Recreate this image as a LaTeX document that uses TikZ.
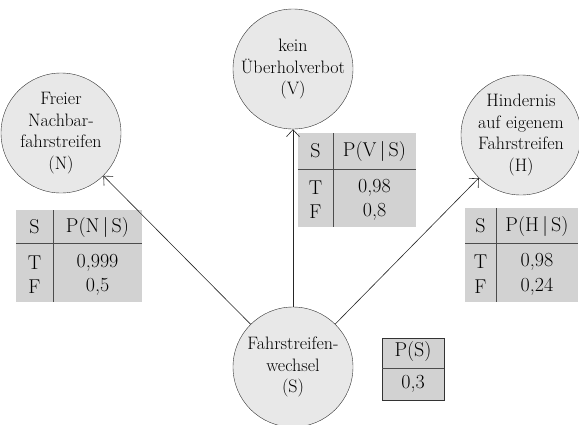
\documentclass[tikz,border=0pt]{standalone}
\usepackage{tikz}
\usetikzlibrary{arrows.meta}
\tikzset{
	x=1pt, y=-1pt,
	every node/.style={font=\fontsize{20}{22}\selectfont},
	var/.style={circle, draw=black!80, fill=gray!18, minimum size=120pt, inner sep=0pt, align=center,
		font=\fontsize{18}{21.5}\selectfont},
	cpt/.style={fill=gray!35},
	cptrule/.style={draw=black!70, line width=0.9pt},
	link/.style={-{Straight Barb[length=7pt,width=13pt]}, black!85, line width=0.6pt},
}

\begin{document}
\begin{tikzpicture}
	\useasboundingbox (0,0) rectangle (579,424);

	% variables
	\node[var] (N) at (61,133) {Freier\\Nachbar-\\fahrstreifen\\(N)};
	\node[var] (V) at (293,69) {kein\\Überholverbot\\(V)};
	\node[var] (H) at (521,135) {Hindernis\\auf eigenem\\Fahrstreifen\\(H)};
	\node[var] (S) at (293,367) {Fahrstreifen-\\wechsel\\(S)};

	% tables
	\fill[cpt] (16,210) rectangle (142,302);
	\draw[cptrule] (16,243) -- (142,243);
	\draw[cptrule] (53,210) -- (53,302);
	\node (n11) at (34.5,227) {S};
	\node (n12) at (97.5,227) {P(N\,|\,S)};
	\node (n21) at (34.5,263) {T};
	\node (n22) at (97.5,263) {0,999};
	\node (n31) at (34.5,287) {F};
	\node (n32) at (97.5,287) {0,5};

	\fill[cpt] (298,133) rectangle (416,227);
	\draw[cptrule] (298,169) -- (416,169);
	\draw[cptrule] (333,133) -- (333,227);
	\node (v11) at (315.5,151) {S};
	\node (v12) at (374.5,151) {P(V\,|\,S)};
	\node (v21) at (315.5,188) {T};
	\node (v22) at (374.5,188) {0,98};
	\node (v31) at (315.5,212) {F};
	\node (v32) at (374.5,212) {0,8};

	\fill[cpt] (465,208) rectangle (578,302);
	\draw[cptrule] (465,243) -- (578,243);
	\draw[cptrule] (496,208) -- (496,302);
	\node (h11) at (480.5,226) {S};
	\node (h12) at (537,226) {P(H\,|\,S)};
	\node (h21) at (480.5,262) {T};
	\node (h22) at (537,262) {0,98};
	\node (h31) at (480.5,287) {F};
	\node (h32) at (537,287) {0,24};

	\filldraw[cpt, draw=black!80, line width=0.6pt] (382,338) rectangle (444,400);
	\draw[cptrule] (382,368) -- (444,368);
	\node (s11) at (413,352) {P(S)};
	\node (s21) at (413,384) {0,3};

	% links
	\draw[link] (S) -- (N);
	\draw[link] (S) -- (V);
	\draw[link] (S) -- (H);
\end{tikzpicture}
\end{document}
